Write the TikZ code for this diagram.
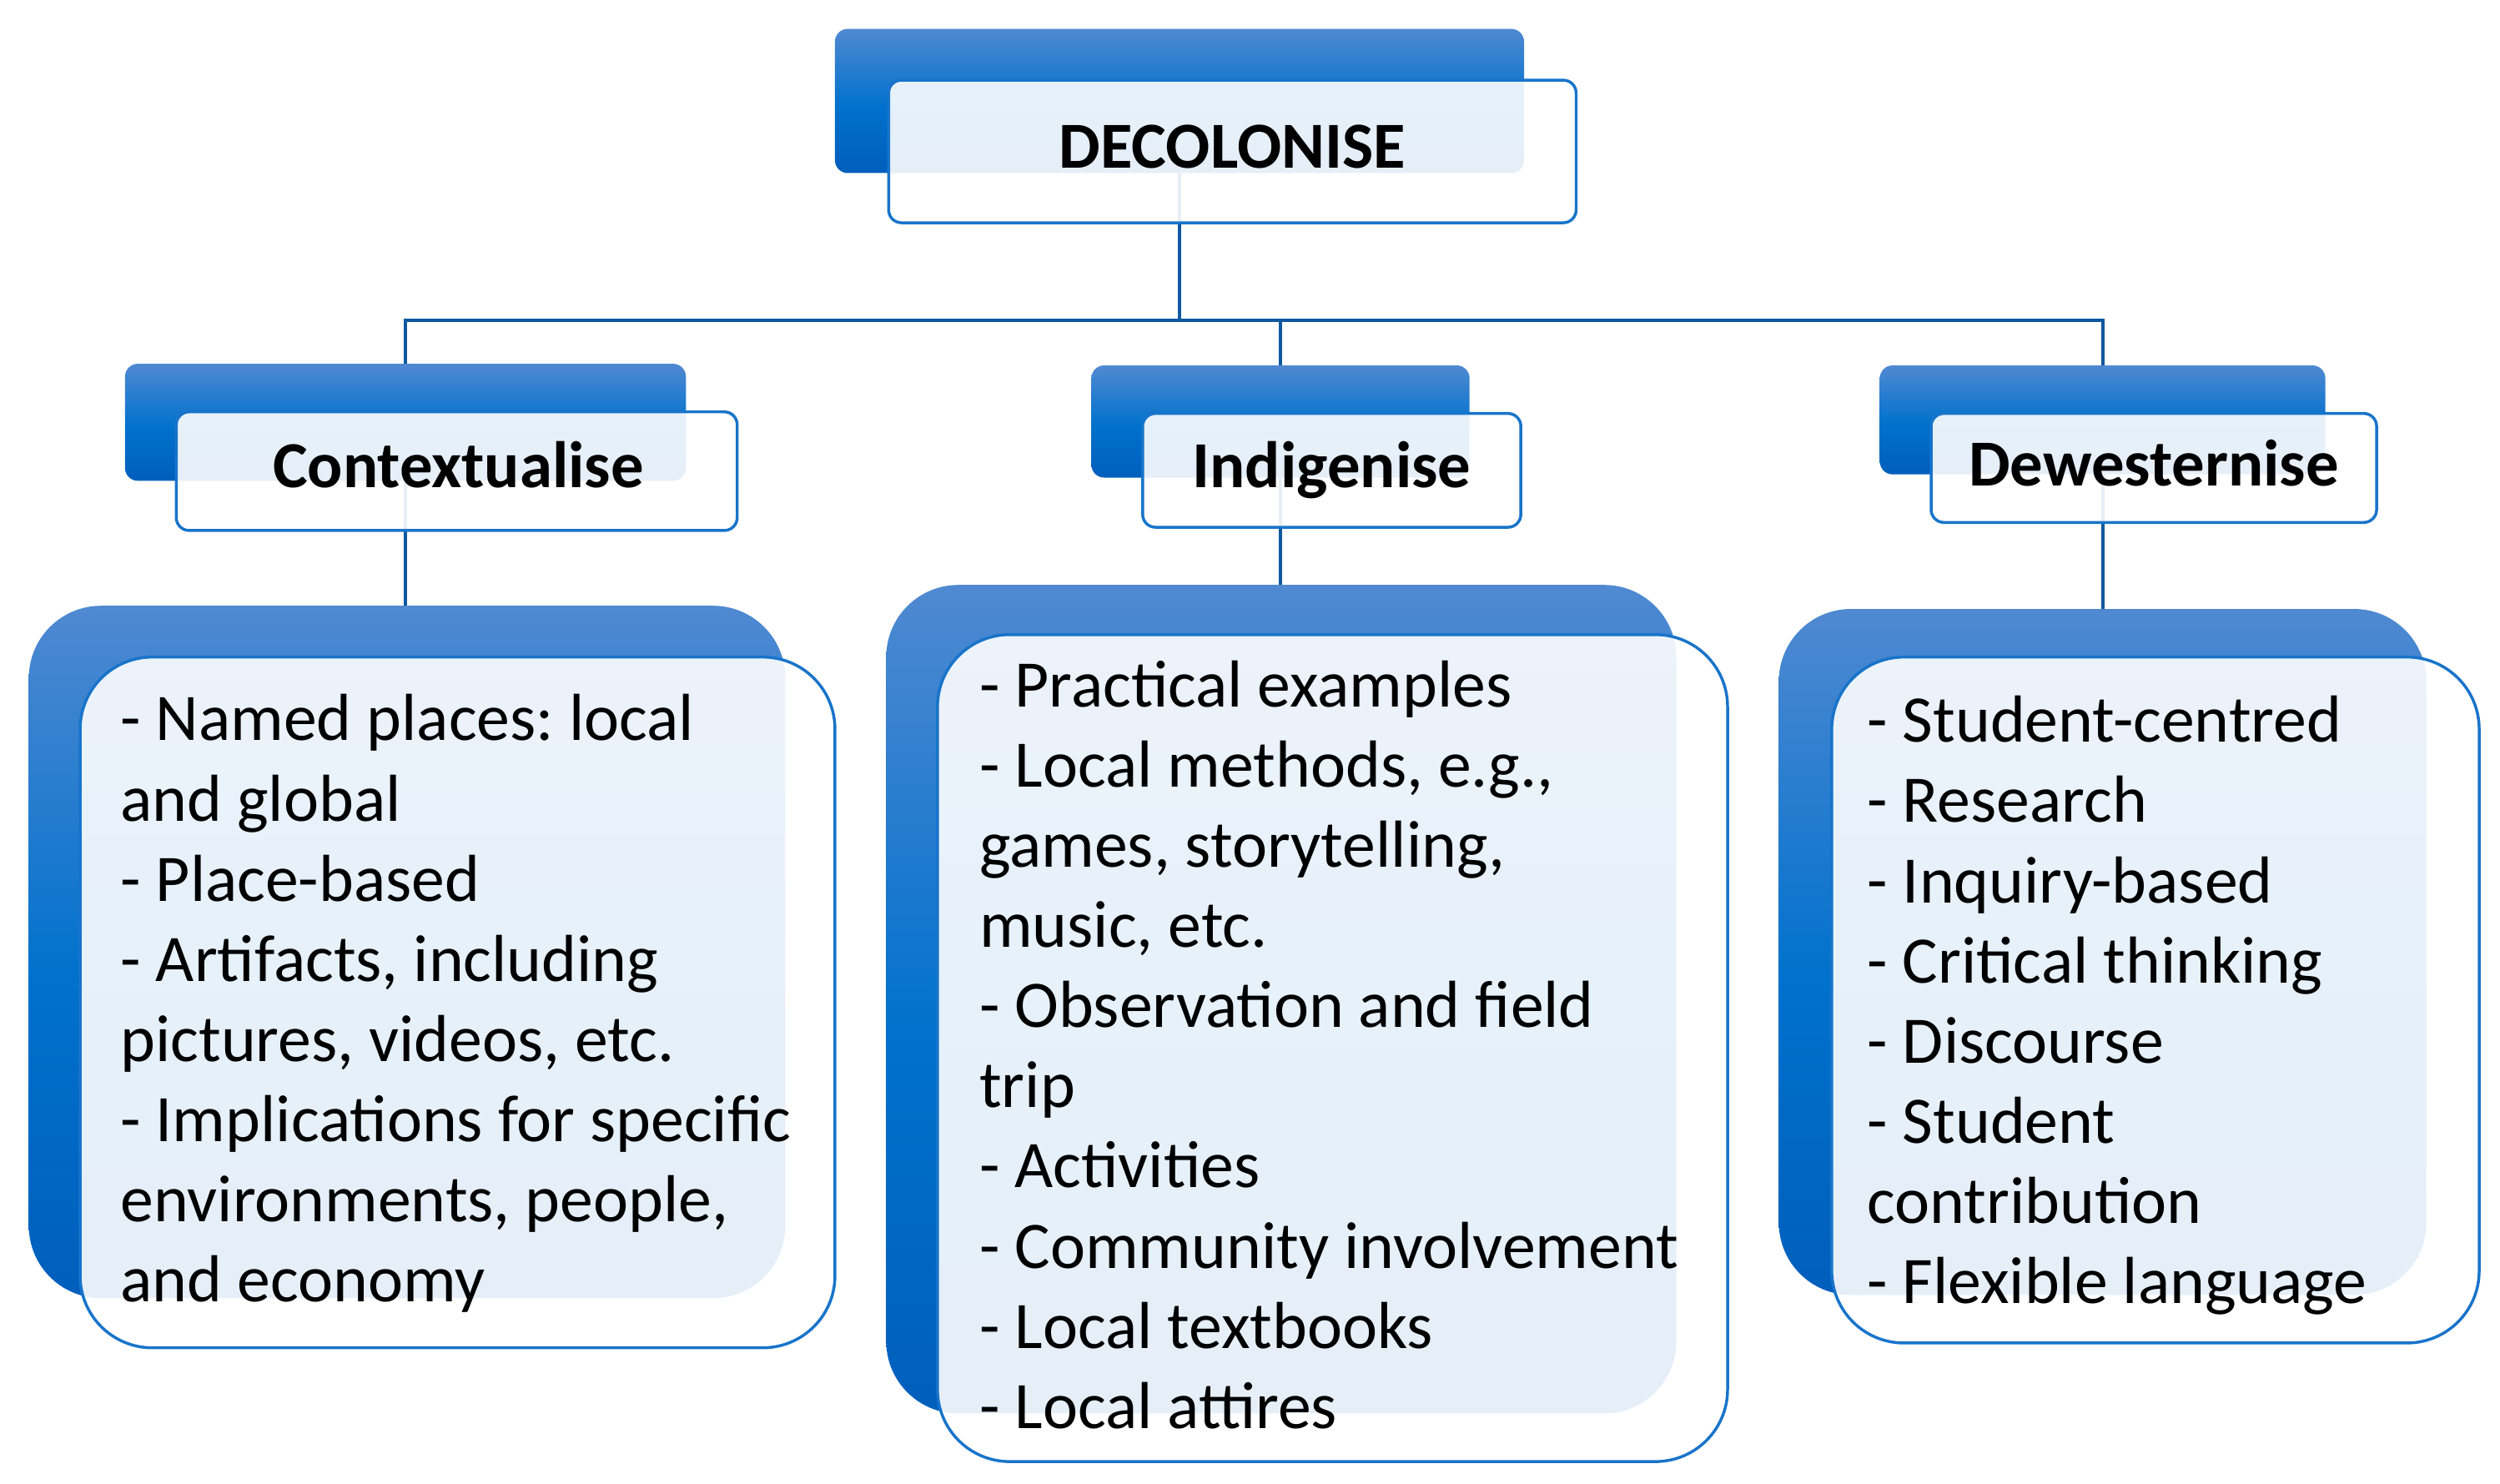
\documentclass[tikz,border=0pt]{standalone}
\usepackage{fontspec}
\setmainfont{Carlito}
\frenchspacing
\definecolor{bT}{RGB}{80,137,209}
\definecolor{bM}{RGB}{0,113,205}
\definecolor{bB}{RGB}{0,94,188}
\definecolor{bord}{RGB}{24,116,202}
\definecolor{conncol}{RGB}{14,88,160}
\pgfdeclareverticalshading{backshade}{100bp}{color(0bp)=(bB); color(25bp)=(bB); color(48bp)=(bM); color(75bp)=(bT); color(100bp)=(bT)}
\tikzset{
  backbox/.style={shape=rectangle, inner sep=0, outer sep=0, shading=backshade, draw=none},
  frontbox/.style={shape=rectangle, inner sep=0, outer sep=0, fill=white, fill opacity=0.9, draw=bord, line width=1.8pt},
  conn/.style={draw=conncol, line width=2pt},
  head/.style={font=\fontsize{41}{50}\selectfont\bfseries\frenchspacing, inner sep=0, anchor=base},
  body/.style={font=\fontsize{41.5}{50}\selectfont\frenchspacing, inner sep=0, anchor=north west, align=left},
}
\begin{document}
\begin{tikzpicture}[x=1pt,y=-1pt]
\useasboundingbox (0,0) rectangle (1560,926);
% back boxes
\node[backbox, rounded corners=8pt, minimum width=430pt, minimum height=90pt] (decB) at (736,63) {};
\node[backbox, rounded corners=8pt, minimum width=350pt, minimum height=73pt] (conB) at (253,263.5) {};
\node[backbox, rounded corners=8pt, minimum width=236pt, minimum height=70pt] (indB) at (799,263) {};
\node[backbox, rounded corners=8pt, minimum width=278pt, minimum height=68pt] (dewB) at (1312,262) {};
\node[backbox, rounded corners=45pt, minimum width=472pt, minimum height=432pt] (conLB) at (254,594) {};
\node[backbox, rounded corners=45pt, minimum width=493pt, minimum height=517pt] (indLB) at (799.5,623.5) {};
\node[backbox, rounded corners=45pt, minimum width=404pt, minimum height=428pt] (dewLB) at (1312,594) {};
% connectors
\coordinate (bus) at (736,200);
\draw[conn] (decB.south) -- (decB.south |- bus) -| (conB.north);
\draw[conn] (decB.south |- bus) -| (indB.north);
\draw[conn] (decB.south |- bus) -| (dewB.north);
\draw[conn] (conB.south) -- (conB.south |- conLB.north);
\draw[conn] (indB.south) -- (indB.south |- indLB.north);
\draw[conn] (dewB.south) -- (dewB.south |- dewLB.north);
% front boxes
\node[frontbox, rounded corners=8pt, minimum width=429pt, minimum height=89pt] (decF) at (769,94.5) {};
\node[frontbox, rounded corners=8pt, minimum width=350pt, minimum height=74pt] (conF) at (285,294) {};
\node[frontbox, rounded corners=8pt, minimum width=236pt, minimum height=71pt] (indF) at (831,293.5) {};
\node[frontbox, rounded corners=8pt, minimum width=278pt, minimum height=68pt] (dewF) at (1344,292) {};
\node[frontbox, rounded corners=45pt, minimum width=471pt, minimum height=431pt] (conLF) at (285.5,625.5) {};
\node[frontbox, rounded corners=45pt, minimum width=493pt, minimum height=516pt] (indLF) at (831.5,654) {};
\node[frontbox, rounded corners=45pt, minimum width=404pt, minimum height=428pt] (dewLF) at (1345,624) {};
% headings
\node[head] (decT) at (769,105) {DECOLONISE};
\node[head] (conT) at (286,304) {Contextualise};
\node[head] (indT) at (831,304) {Indigenise};
\node[head] (dewT) at (1344,303) {Dewesternise};
% bodies
\node[body] (conX) at (75,427) {\rule{0pt}{35pt}- Named places: local\\and global\\- Place-based\\- Artifacts, including\\pictures, videos, etc.\\- Implications for specific\\environments, people,\\and economy};
\node[body] (indX) at (611,406) {\rule{0pt}{35pt}- Practical examples\\- Local methods, e.g.,\\games, storytelling,\\music, etc.\\- Observation and field\\trip\\- Activities\\- Community involvement\\- Local textbooks\\- Local attires};
\node[body] (dewX) at (1165,428) {\rule{0pt}{35pt}- Student-centred\\- Research\\- Inquiry-based\\- Critical thinking\\- Discourse\\- Student\\contribution\\- Flexible language};
\end{tikzpicture}
\end{document}
